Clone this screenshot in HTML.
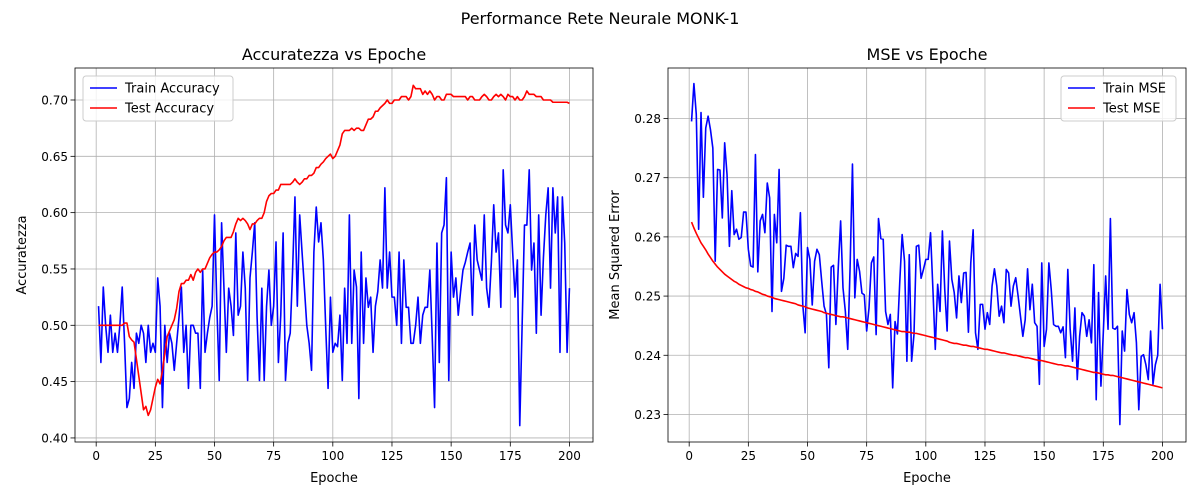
<!DOCTYPE html>
<html><head><meta charset="utf-8">
<style>
html,body{margin:0;padding:0;background:#fff;}
svg{display:block;font-family:"DejaVu Sans","Liberation Sans",sans-serif;}
</style></head>
<body>
<svg id="chart" width="1200" height="500" viewBox="0 0 1200 500">
<text x="600" y="24" text-anchor="middle" font-size="16">Performance Rete Neurale MONK-1</text>
</svg>
<script>
const trainAcc = [
.517,.467,.534,.500,.476,.509,.476,.493,.476,.500,.534,.484,.427,.435,.467,.444,.493,.484,.500,.493,
.467,.500,.476,.484,.476,.542,.517,.427,.500,.467,.493,.484,.460,.484,.507,.534,.476,.500,.444,.500,
.500,.493,.493,.444,.549,.476,.493,.507,.517,.598,.517,.451,.591,.533,.476,.533,.517,.491,.582,.509,
.517,.565,.533,.451,.542,.565,.591,.507,.451,.533,.451,.517,.549,.500,.517,.574,.467,.509,.582,.451,
.484,.493,.549,.614,.517,.598,.565,.533,.500,.484,.460,.565,.605,.574,.591,.558,.498,.444,.525,.476,
.484,
.481,.509,.451,.533,.484,.598,.484,.549,.534,.435,.565,.484,.542,.516,.525,.476,.517,.530,.558,.533,
.622,.533,.565,.525,.525,.500,.565,.484,.558,.516,.516,.484,.484,.500,.525,.484,.509,.516,.516,.549,
.490,.427,.573,.467,.582,.589,.631,.451,.565,.525,.542,.509,.530,.549,.556,.565,.573,.509,.589,.558,
.549,.540,.598,.533,.516,.556,.607,.565,.582,.516,.638,.589,.582,.607,.565,.525,.558,.411,.500,.589,.589,.638,.549,
.573,.493,.598,.509,.560,.598,.622,.533,.622,.582,.614,.476,.614,.573,.476,.533
];
const testAcc = [
.500,.500,.500,.500,.500,.500,.500,.500,.500,.500,.500,.502,.502,.490,.487,.485,.470,.455,.440,.425,
.428,.420,.425,.435,.445,.452,.448,.460,.475,.490,.495,.500,.505,.515,.530,.537,.537,.540,.540,.545,
.540,.547,.550,.547,.550,.550,.555,.560,.563,.565,.565,.567,.570,.575,.578,.578,.578,.583,.590,.595,
.593,.595,.593,.590,.585,.590,.590,.593,.595,.595,.600,.610,.615,.617,.617,.620,.620,.625,.625,.625,
.625,.625,.627,.630,.627,.625,.627,.630,.630,.633,.633,.635,.640,.640,.643,.645,.648,.650,.652,.648,
.650,.655,.660,.670,.673,.673,.673,.675,.673,.675,.675,.673,.673,.678,.683,.683,.685,.690,.690,.693,
.695,.697,.700,.697,.697,.700,.700,.700,.703,.703,.703,.700,.703,.713,.710,.710,.710,.705,.708,.705,
.708,.705,.700,.703,.703,.700,.700,.705,.705,.705,.703,.703,.703,.703,.703,.703,.700,.703,.703,.700,
.700,.700,.703,.705,.703,.700,.700,.703,.705,.703,.705,.703,.700,.705,.703,.703,.700,.703,.700,.700,
.703,.708,.705,.705,.705,.703,.703,.703,.700,.700,.700,.700,.698,.698,.698,.698,.698,.698,.698,.697
];
const trainMse = [
.2795,.2859,.2807,.2613,.2810,.2667,.2784,.2804,.2781,.2750,.2559,.2714,.2713,.2632,.2759,.2705,.2584,.2678,.2604,.2613,
.2596,.2599,.2642,.2642,.2579,.2551,.2549,.2739,.2541,.2627,.2638,.2607,.2691,.2666,.2474,.2638,.2590,.2714,.2508,.2530,
.2586,.2584,.2584,.2548,.2572,.2567,.2641,.2485,.2438,.2582,.2562,.2485,.2559,.2579,.2570,.2525,.2483,.2469,.2379,.2549,
.2552,.2452,.2548,.2627,.2514,.2474,.2410,.2548,.2723,.2497,.2562,.2542,.2505,.2502,.2441,.2480,.2556,.2566,.2435,.2631,
.2597,.2596,.2474,.2452,.2469,.2345,.2457,.2436,.2525,.2604,.2559,.2390,.2570,.2390,.2435,.2584,.2586,.2530,.2545,.2562,
.2562,.2607,.2511,.2410,.2520,.2474,.2610,.2511,.2441,.2593,.2528,.2506,.2463,.2534,.2489,.2539,.2540,.2439,.2556,.2612,
.2438,.2410,.2486,.2486,.2444,.2472,.2452,.2517,.2546,.2517,.2466,.2483,.2455,.2545,.2539,.2483,.2517,.2531,.2500,.2466,
.2432,.2460,.2546,.2477,.2520,.2455,.2449,.2351,.2556,.2415,.2444,.2556,.2511,.2452,.2449,.2449,.2438,.2448,.2396,.2545,
.2444,.2390,.2480,.2359,.2432,.2472,.2466,.2432,.2460,.2421,.2553,.2325,.2506,.2348,.2438,.2534,.2444,.2631,.2446,.2444,
.2449,.2283,.2441,.2407,.2511,.2469,.2455,.2472,.2421,.2308,.2398,.2401,.2384,.2359,.2441,.2351,.2384,.2400,.2520,.2444
];
const testMse = [
.2625,.2615,.2606,.2598,.2590,.2584,.2578,.2571,.2565,.2559,.2554,.2549,.2545,.2541,.2537,.2534,.2531,.2528,.2525,.2523,
.2520,.2518,.2516,.2514,.2513,.2511,.2510,.2508,.2507,.2505,.2503,.2502,.2500,.2499,.2498,.2496,.2495,.2494,.2493,.2492,
.2491,.2490,.2489,.2488,.2487,.2485,.2484,.2483,.2482,.2480,.2479,.2478,.2477,.2476,.2475,.2474,.2472,.2471,.2470,.2469,
.2468,.2467,.2466,.2465,.2465,.2464,.2463,.2462,.2461,.2460,.2459,.2458,.2457,.2456,.2455,.2454,.2453,.2452,.2451,.2450,
.2449,.2448,.2447,.2446,.2445,.2444,.2443,.2442,.2441,.2440,.2440,.2439,.2439,.2438,.2437,.2437,.2436,.2435,.2434,.2433,
.2432,.2431,.2430,.2429,.2428,.2427,.2426,.2425,.2424,.2422,.2421,.2420,.2420,.2419,.2418,.2417,.2417,.2416,.2415,.2415,
.2414,.2413,.2412,.2411,.2410,.2410,.2409,.2408,.2407,.2406,.2405,.2404,.2404,.2403,.2402,.2401,.2400,.2400,.2399,.2398,
.2397,.2396,.2396,.2395,.2394,.2393,.2392,.2391,.2391,.2390,.2389,.2388,.2387,.2386,.2385,.2384,.2384,.2383,.2382,.2382,
.2381,.2380,.2379,.2378,.2377,.2376,.2375,.2374,.2373,.2372,.2371,.2371,.2370,.2369,.2368,.2367,.2367,.2366,.2366,.2365,
.2364,.2363,.2362,.2361,.2360,.2359,.2358,.2357,.2356,.2355,.2354,.2353,.2352,.2351,.2350,.2349,.2348,.2347,.2346,.2345
];
const xTicks = [0,25,50,75,100,125,150,175,200];
const accTicks = [0.40,0.45,0.50,0.55,0.60,0.65,0.70];
const mseTicks = [0.23,0.24,0.25,0.26,0.27,0.28];

const NS = "http://www.w3.org/2000/svg";
const svg = document.getElementById('chart');
function mk(tag, attrs, parent){
  const e = document.createElementNS(NS, tag);
  for (const k in attrs) e.setAttribute(k, attrs[k]);
  (parent||svg).appendChild(e);
  return e;
}

function panel(cfg){
  const g = mk('g', {});
  
  
  const L = cfg.left, R = cfg.left + 518, T = 68, B = 442;
  const xs = v => L + (v - (-8.95)) / (209.95 + 8.95) * (R - L);
  const ys = v => B - (v - cfg.ymin) / (cfg.ymax - cfg.ymin) * (B - T);
  xTicks.forEach(t => {
    const ln = mk('line', {x1: xs(t), x2: xs(t), y1: T, y2: B, stroke: '#b0b0b0', 'stroke-width': 0.8}, g);
    
    
    const tk = mk('line', {x1: xs(t), x2: xs(t), y1: B, y2: B + 4.5, stroke: '#000', 'stroke-width': 0.8}, g);
    
    
    const tx = mk('text', {x: xs(t), y: B + 18, 'text-anchor': 'middle', 'font-size': 12}, g);
    tx.textContent = t;
    
    
  });
  cfg.ticks.forEach(t => {
    const ln = mk('line', {x1: L, x2: R, y1: ys(t), y2: ys(t), stroke: '#b0b0b0', 'stroke-width': 0.8}, g);
    
    
    const tk = mk('line', {x1: L - 4.5, x2: L, y1: ys(t), y2: ys(t), stroke: '#000', 'stroke-width': 0.8}, g);
    
    
    const tx = mk('text', {x: L - 7, y: ys(t) + 4.5, 'text-anchor': 'end', 'font-size': 12}, g);
    tx.textContent = t.toFixed(2);
    
    
  });
  function line(arr, color, nm){
    const p = mk('polyline', {points: arr.map((v,i)=> xs(i+1).toFixed(2)+','+ys(v).toFixed(2)).join(' '), fill: 'none', stroke: color, 'stroke-width': 1.6, 'stroke-linejoin': 'round'}, g);
    
    
  }
  line(cfg.train, '#0000ff', cfg.trainName);
  line(cfg.test, '#ff0000', cfg.testName);
  const fr = mk('rect', {x: L, y: T, width: R - L, height: B - T, fill: 'none', stroke: '#000', 'stroke-width': 0.8}, g);
  
  
  const ti = mk('text', {x: (L + R) / 2, y: 60, 'text-anchor': 'middle', 'font-size': 16}, g);
  ti.textContent = cfg.title;
  
  
  const xl = mk('text', {x: (L + R) / 2, y: 482, 'text-anchor': 'middle', 'font-size': 13}, g);
  xl.textContent = 'Epoche';
  
  
  const yl = mk('text', {x: 0, y: 0, 'text-anchor': 'middle', 'font-size': 13, transform: 'translate(' + cfg.ylx + ',' + (T + B) / 2 + ') rotate(-90)'}, g);
  yl.textContent = cfg.ylabel;
  
  
  const lg = mk('g', {}, g);
  
  
  mk('rect', {x: cfg.lgx, y: 76, width: cfg.lgw, height: 45, rx: 3, fill: '#fff', 'fill-opacity': 0.8, stroke: '#ccc', 'stroke-width': 1}, lg);
  [[cfg.trainLabel, '#0000ff'], [cfg.testLabel, '#ff0000']].forEach((e, i) => {
    const yy = 88 + i * 20;
    const ent = mk('g', {}, lg);
    
    
    mk('line', {x1: cfg.lgx + 7, x2: cfg.lgx + 34, y1: yy, y2: yy, stroke: e[1], 'stroke-width': 1.6}, ent);
    const t = mk('text', {x: cfg.lgx + 42, y: yy + 4.5, 'font-size': 13}, ent);
    t.textContent = e[0];
  });
}

panel({name: 'accuracy-panel', left: 75, ymin: 0.3964, ymax: 0.7284, ticks: accTicks,
  train: trainAcc, test: testAcc, trainName: 'train-accuracy-line', testName: 'test-accuracy-line',
  title: 'Accuratezza vs Epoche', ylabel: 'Accuratezza', ylx: 26,
  lgx: 83, lgw: 150, trainLabel: 'Train Accuracy', testLabel: 'Test Accuracy'});
panel({name: 'mse-panel', left: 668, ymin: 0.22535, ymax: 0.28853, ticks: mseTicks,
  train: trainMse, test: testMse, trainName: 'train-mse-line', testName: 'test-mse-line',
  title: 'MSE vs Epoche', ylabel: 'Mean Squared Error', ylx: 619,
  lgx: 1061, lgw: 115, trainLabel: 'Train MSE', testLabel: 'Test MSE'});
</script>
</body></html>
